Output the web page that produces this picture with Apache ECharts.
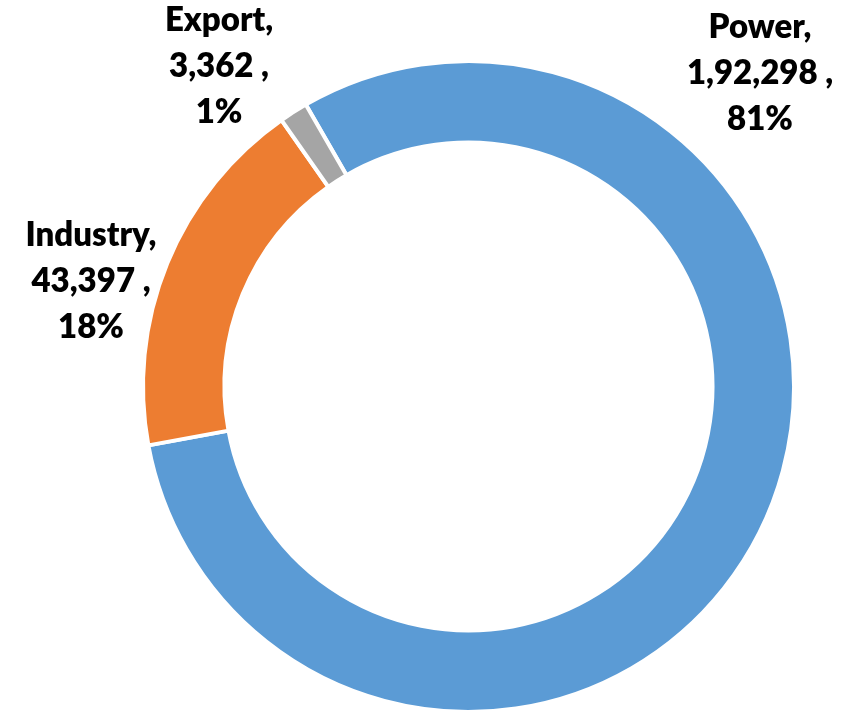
<!DOCTYPE html>
<html>
<head>
<meta charset="utf-8">
<script src="https://cdn.jsdelivr.net/npm/echarts@6/dist/echarts.min.js"></script>
<style>
html,body{margin:0;padding:0;background:#fff;}
#chart{width:861px;height:713px;}
</style>
</head>
<body>
<div id="chart"></div>
<script>
var categories = ['Power', 'Industry', 'Export'];
var values = [192298, 43397, 3362];
var colors = ['#5B9BD5', '#ED7D31', '#A5A5A5'];

function indianFormat(n) {
  var s = String(Math.round(n));
  if (s.length <= 3) return s;
  var last3 = s.slice(-3);
  var rest = s.slice(0, -3);
  rest = rest.replace(/\B(?=(\d{2})+(?!\d))/g, ',');
  return rest + ',' + last3;
}

var labelAnchors = {
  0: [760, 73],
  1: [91, 281],
  2: [219, 66]
};

var chart = echarts.init(document.getElementById('chart'), null, {renderer: 'canvas'});
chart.setOption({
  animation: false,
  backgroundColor: '#ffffff',
  series: [{
    type: 'pie',
    center: [468.5, 386.5],
    radius: [244, 325.5],
    startAngle: 120,
    clockwise: true,
    percentPrecision: 0,
    avoidLabelOverlap: false,
    data: categories.map(function (c, i) {
      return {name: c, value: values[i], itemStyle: {color: colors[i]}};
    }),
    itemStyle: {borderColor: '#ffffff', borderWidth: 4},
    label: {
      show: true,
      position: 'outside',
      formatter: function (p) {
        return p.name + ',\n' + indianFormat(p.value) + ' ,\n' + p.percent + '%';
      },
      color: '#000000',
      fontFamily: 'Lato',
      fontWeight: 800,
      fontSize: 33,
      lineHeight: 46,
      align: 'center'
    },
    labelLine: {show: false},
    labelLayout: function (params) {
      var a = labelAnchors[params.dataIndex];
      return {x: a[0], y: a[1], align: 'center', verticalAlign: 'middle'};
    },
    emphasis: {disabled: true}
  }]
});
</script>
</body>
</html>
